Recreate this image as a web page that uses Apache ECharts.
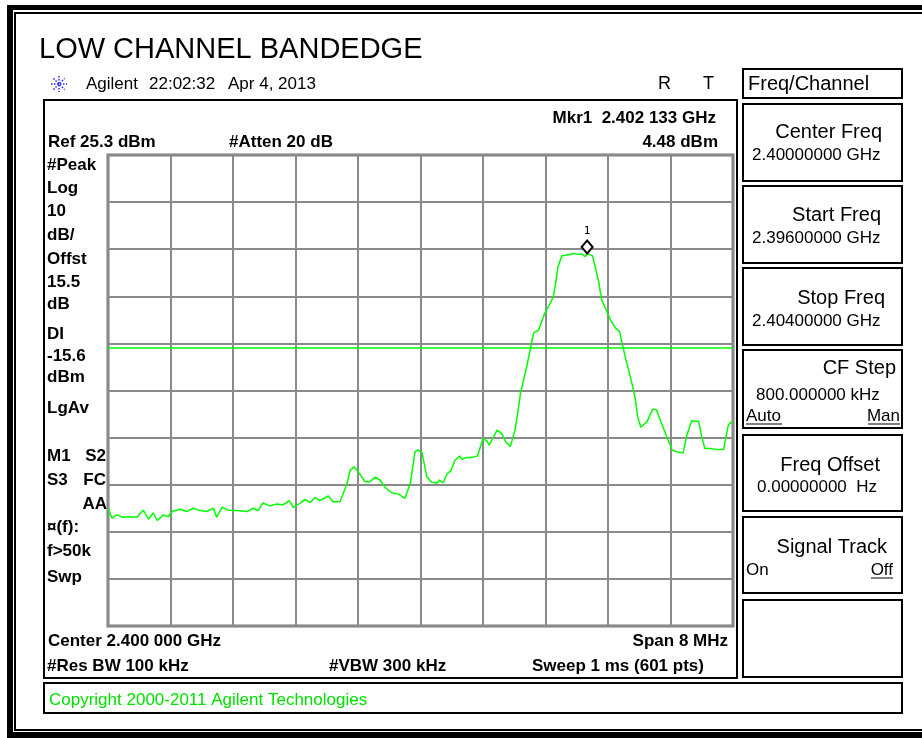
<!DOCTYPE html>
<html><head><meta charset="utf-8">
<script src="https://cdn.jsdelivr.net/npm/echarts@6/dist/echarts.min.js"></script>
<style>html,body{margin:0;padding:0;background:#fff}#c{width:922px;height:738px}</style>
</head><body><div id="c"></div>
<script>
// ---- data ----
const freqMHz = [
 2396.00,2396.05,2396.11,2396.19,2396.28,2396.37,2396.45,2396.52,2396.58,2396.63,
 2396.71,2396.77,2396.82,2396.92,2397.01,2397.09,2397.18,2397.26,2397.35,2397.39,
 2397.46,2397.54,2397.65,2397.78,2397.86,2397.92,2397.98,2398.07,2398.16,2398.24,
 2398.32,2398.37,2398.46,2398.52,2398.59,2398.65,2398.71,2398.82,2398.88,2398.97,
 2399.06,2399.10,2399.15,2399.20,2399.29,2399.35,2399.42,2399.48,2399.55,2399.63,
 2399.72,2399.80,2399.87,2399.93,2399.97,2400.02,2400.08,2400.14,2400.21,2400.24,
 2400.29,2400.34,2400.39,2400.44,2400.50,2400.53,2400.59,2400.66,2400.73,2400.80,
 2400.85,2400.88,2400.98,2401.04,2401.09,2401.15,2401.21,2401.25,2401.28,2401.36,
 2401.42,2401.45,2401.51,2401.56,2401.59,2401.64,2401.70,2401.73,2401.76,2401.81,
 2401.89,2401.96,2402.02,2402.06,2402.11,2402.133,2402.20,2402.23,2402.28,2402.32,
 2402.36,2402.43,2402.50,2402.55,2402.58,2402.63,2402.67,2402.72,2402.75,2402.78,
 2402.82,2402.90,2402.97,2403.02,2403.07,2403.15,2403.22,2403.28,2403.36,2403.41,
 2403.47,2403.56,2403.60,2403.64,2403.71,2403.79,2403.88,2403.94,2404.00
];
const levelDbm = [
 -49.7,-51.8,-51.1,-51.6,-51.5,-51.6,-50.1,-52.0,-50.7,-52.3,
 -51.1,-51.5,-50.4,-49.9,-50.4,-49.7,-50.2,-50.4,-49.7,-51.6,
 -49.5,-50.1,-50.2,-50.4,-49.7,-50.2,-48.6,-49.2,-48.8,-49.0,
 -48.1,-49.5,-48.6,-47.8,-48.5,-47.4,-48.1,-47.1,-48.3,-48.3,
 -44.4,-41.6,-40.9,-41.9,-44.1,-44.1,-43.1,-43.7,-45.3,-46.4,
 -46.7,-47.6,-44.4,-37.7,-37.3,-37.9,-43.0,-44.1,-44.4,-43.7,
 -44.3,-42.4,-41.7,-39.5,-38.6,-39.3,-38.9,-38.9,-38.6,-34.9,
 -35.4,-36.3,-33.1,-33.8,-35.6,-36.6,-33.1,-28.8,-25.3,-19.6,
 -14.7,-12.4,-11.9,-9.7,-8.3,-6.8,-4.8,-1.9,1.6,3.9,
 4.1,4.4,4.2,4.3,3.7,4.48,3.9,2.0,-1.6,-5.5,
 -6.9,-9.7,-11.5,-12.2,-14.7,-18.2,-20.7,-24.2,-26.7,-30.3,
 -32.5,-31.3,-28.7,-28.8,-31.0,-34.4,-37.3,-37.7,-38.0,-34.2,
 -31.1,-31.3,-34.5,-37.0,-37.0,-37.2,-37.2,-32.0,-31.1
];
const refLevelDbm = 25.3;
const dbPerDiv = 10;
const divisions = 10;
const startMHz = 2396;
const stopMHz = 2404;
const displayLineDbm = -15.6;
const markerFreqMHz = 2402.133;
const markerLevelDbm = 4.48;
const markerName = '1';

const titleText = 'LOW CHANNEL BANDEDGE';
const leftLabels = ['#Peak','Log','10','dB/','Offst','15.5','dB','DI','-15.6','dBm','LgAv'];
const leftLabelsY = [165,188,211,235,259,282,304,334,356,377,408];

// ---- drawing ----
const FF = '"Liberation Sans", Arial, sans-serif';
function txt(s, x, y, o) {
  o = o || {};
  const al = o.align || 'left';
  return {type:'text', x:x, y:y, silent:true, z:10,
    style:{text:s, font:(o.w||'normal')+' '+(o.size||17)+'px '+FF, fill:o.color||'#000',
      textAlign:al, align:al, textVerticalAlign:'middle', verticalAlign:'middle'}};
}
function rect(x,y,w,h,o){
  o=o||{};
  return {type:'rect', silent:true, z:o.z||5, shape:{x:x,y:y,width:w,height:h},
    style:{fill:o.fill||'none', stroke:o.stroke||null, lineWidth:o.lw||0}};
}
function line(x1,y1,x2,y2,o){
  o=o||{};
  return {type:'line', silent:true, z:10, shape:{x1:x1,y1:y1,x2:x2,y2:y2},
    style:{stroke:o.stroke||'#000', lineWidth:o.lw||1, lineDash:o.dash||null}};
}

const g = [];
// outer frame
g.push(rect(7,5,960,5,{fill:'#000'}));
g.push(rect(7,5,6,733,{fill:'#000'}));
g.push(rect(7,732,960,6,{fill:'#000'}));
g.push(rect(14,12,960,2,{fill:'#000'}));
g.push(rect(14,12,2,719,{fill:'#000'}));
g.push(rect(14,729,960,2,{fill:'#000'}));
// title
g.push(txt(titleText, 39, 50, {size:29}));
// agilent spark icon
const cx=59, cy=84, r=8;
[[0,1],[1,0],[0.7,0.7],[0.7,-0.7]].forEach(function(d){
  g.push(line(cx-d[0]*r, cy-d[1]*r, cx+d[0]*r, cy+d[1]*r, {stroke:'#2a2aff', lw:1.5, dash:[1.5,1.5]}));
});
g.push(txt('Agilent', 86, 84, {size:17}));
g.push(txt('22:02:32', 149, 84, {size:17}));
g.push(txt('Apr 4, 2013', 228, 84, {size:17}));
g.push(txt('R', 658, 84, {size:18}));
g.push(txt('T', 703, 84, {size:18}));
// instrument box
g.push(rect(44,100,693,578,{stroke:'#000', lw:2}));
g.push(txt('Ref 25.3 dBm', 48, 142, {w:'bold'}));
g.push(txt('#Atten 20 dB', 229, 142, {w:'bold'}));
g.push(txt('Mkr1  2.402 133 GHz', 716, 118, {w:'bold', align:'right'}));
g.push(txt('4.48 dBm', 718, 142, {w:'bold', align:'right'}));
leftLabels.forEach(function(s,i){ g.push(txt(s, 47, leftLabelsY[i], {w:'bold'})); });
g.push(txt('M1', 47, 456, {w:'bold'}));
g.push(txt('S2', 106, 456, {w:'bold', align:'right'}));
g.push(txt('S3', 47, 480, {w:'bold'}));
g.push(txt('FC', 106, 480, {w:'bold', align:'right'}));
g.push(txt('AA', 107, 504, {w:'bold', align:'right'}));
g.push(txt('\u00a4(f):', 47, 527, {w:'bold'}));
g.push(txt('f>50k', 47, 551, {w:'bold'}));
g.push(txt('Swp', 47, 577, {w:'bold'}));
g.push(txt('Center 2.400 000 GHz', 48, 641, {w:'bold'}));
g.push(txt('Span 8 MHz', 728, 641, {w:'bold', align:'right'}));
g.push(txt('#Res BW 100 kHz', 47, 666, {w:'bold'}));
g.push(txt('#VBW 300 kHz', 329, 666, {w:'bold'}));
g.push(txt('Sweep 1 ms (601 pts)', 532, 666, {w:'bold'}));
// softkeys
g.push(rect(743,69,159,29,{stroke:'#000', lw:2}));
g.push(txt('Freq/Channel', 748, 84, {size:20}));
const keyTops = [104,186,268,350,435,517,600];
const keyBots = [181,263,345,428,511,593,677];
keyTops.forEach(function(t,i){ g.push(rect(743,t,159,keyBots[i]-t,{stroke:'#000', lw:2})); });
g.push(txt('Center Freq', 882, 132, {size:20, align:'right'}));
g.push(txt('2.40000000 GHz', 752, 155, {size:17}));
g.push(txt('Start Freq', 881, 215, {size:20, align:'right'}));
g.push(txt('2.39600000 GHz', 752, 238, {size:17}));
g.push(txt('Stop Freq', 885, 298, {size:20, align:'right'}));
g.push(txt('2.40400000 GHz', 752, 321, {size:17}));
g.push(txt('CF Step', 896, 368, {size:20, align:'right'}));
g.push(txt('800.000000 kHz', 756, 395, {size:17}));
g.push(txt('Auto', 746, 416, {size:17}));
g.push(line(746,424,782,424,{lw:1}));
g.push(txt('Man', 900, 416, {size:17, align:'right'}));
g.push(line(868,424,900,424,{lw:1}));
g.push(txt('Freq Offset', 880, 465, {size:20, align:'right'}));
g.push(txt('0.00000000  Hz', 757, 487, {size:17}));
g.push(txt('Signal Track', 887, 547, {size:20, align:'right'}));
g.push(txt('On', 746, 570, {size:17}));
g.push(txt('Off', 893, 570, {size:17, align:'right'}));
g.push(line(871,578,893,578,{lw:1}));
// copyright
g.push(rect(44,683,858,30,{stroke:'#000', lw:2}));
g.push(txt('Copyright 2000-2011 Agilent Technologies', 49, 700, {size:17, color:'#00e000'}));

const gridColor = '#8a8a8a';
const option = {
  animation: false,
  backgroundColor: '#fff',
  grid: {left:108, top:155, width:625, height:471, show:true, borderColor:'#777', borderWidth:3, backgroundColor:'transparent'},
  xAxis: [
    {type:'value', min:startMHz, max:stopMHz, show:false},
    {type:'value', min:0, max:divisions, interval:1, position:'bottom',
      axisLine:{show:false}, axisTick:{show:false}, axisLabel:{show:false},
      splitLine:{show:true, lineStyle:{color:gridColor, width:2}}}
  ],
  yAxis: [
    {type:'value', min:refLevelDbm - dbPerDiv*divisions, max:refLevelDbm, show:false},
    {type:'value', min:0, max:divisions, interval:1, position:'left',
      axisLine:{show:false}, axisTick:{show:false}, axisLabel:{show:false},
      splitLine:{show:true, lineStyle:{color:gridColor, width:2}}}
  ],
  graphic: g,
  series: [{
    type:'line', xAxisIndex:0, yAxisIndex:0,
    data: freqMHz.map(function(f,i){ return [f, levelDbm[i]]; }),
    symbol:'none', showSymbol:false, z:3,
    lineStyle:{color:'#00ff00', width:1.5},
    markLine:{silent:true, symbol:'none', label:{show:false},
      lineStyle:{color:'#00ff00', width:1.5, type:'solid'},
      data:[{yAxis:displayLineDbm}]},
    markPoint:{silent:true,
      data:[{coord:[markerFreqMHz, markerLevelDbm], value:markerName}],
      symbol:'diamond', symbolSize:[11,13], symbolOffset:[0,-6],
      itemStyle:{color:'#fff', borderColor:'#000', borderWidth:2},
      label:{show:true, position:'top', distance:3, formatter:markerName,
        color:'#000', fontSize:11, fontFamily:'"DejaVu Sans Mono", monospace'}}
  }]
};
const chart = echarts.init(document.getElementById('c'), null, {renderer:'canvas'});
chart.setOption(option);
</script>
</body></html>
